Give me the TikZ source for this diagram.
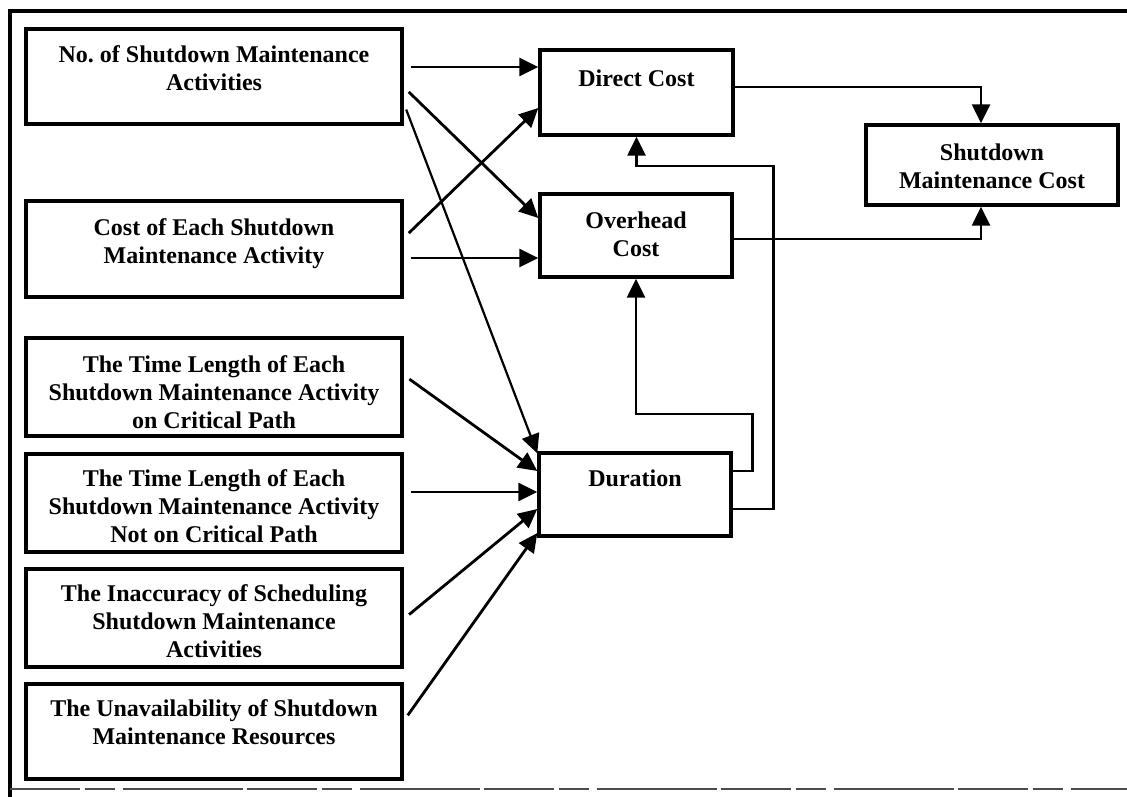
\documentclass[tikz,border=0pt]{standalone}
\usepackage{fontspec}
\setmainfont{Liberation Serif}
\usetikzlibrary{arrows.meta}
\begin{document}
\begin{tikzpicture}[x=1pt,y=-1pt,
  factor/.style={draw,line width=3.4pt,minimum width=376pt,inner sep=0pt},
  costbox/.style={draw,line width=3.4pt,inner sep=0pt},
  lbl/.style={anchor=north,align=center,inner sep=0pt,font=\bfseries\fontsize{24}{28}\selectfont},
  tip/.style={-{Triangle[length=19pt,width=18pt]}},
  arr/.style={tip,line width=2.8pt,shorten <=7pt},
  thinarr/.style={tip,line width=2.2pt,shorten <=7pt},
  elb/.style={tip,line width=2.5pt}]
\useasboundingbox (0,0) rectangle (1127,797);

% outer frame
\draw[line width=4pt] (9.5,797) -- (9.5,11.5) -- (1127,11.5);
\draw[line width=2.2pt,black!70,dash pattern=on 70pt off 5pt on 30pt off 8pt on 120pt off 4pt]
  (9.5,789) -- (1127,789);

% input factors
\node[factor,minimum height=95pt] (b1) at (214,76.5) {};
\node[factor,minimum height=96pt] (b2) at (214,249) {};
\node[factor,minimum height=98pt] (b3) at (214,387) {};
\node[factor,minimum height=98pt] (b4) at (214,503) {};
\node[factor,minimum height=98pt] (b5) at (214,618) {};
\node[factor,minimum height=95pt] (b6) at (214,731.5) {};

\node[lbl] (t1) at ([yshift=-18pt]b1.north) {No.\ of Shutdown Maintenance\\Activities};
\node[lbl] (t2) at ([yshift=-19pt]b2.north) {Cost of Each Shutdown\\Maintenance Activity};
\node[lbl] (t3) at ([yshift=-19pt]b3.north) {The Time Length of Each\\Shutdown Maintenance Activity\\on Critical Path};
\node[lbl] (t4) at ([yshift=-17pt]b4.north) {The Time Length of Each\\Shutdown Maintenance Activity\\Not on Critical Path};
\node[lbl] (t5) at ([yshift=-17pt]b5.north) {The Inaccuracy of Scheduling\\Shutdown Maintenance\\Activities};
\node[lbl] (t6) at ([yshift=-17pt]b6.north) {The Unavailability of Shutdown\\Maintenance Resources};

% intermediate and final quantities
\node[costbox,minimum width=193pt,minimum height=85pt] (direct) at (636.5,92.5) {};
\node[costbox,minimum width=192pt,minimum height=83pt] (over) at (636,235.5) {};
\node[costbox,minimum width=192pt,minimum height=83pt] (dur) at (635,494.5) {};
\node[costbox,minimum width=252pt,minimum height=80pt] (smc) at (992,165) {};

\node[lbl] (tdirect) at ([yshift=-21pt]direct.north) {Direct Cost};
\node[lbl] (tover) at ([yshift=-19pt]over.north) {Overhead\\Cost};
\node[lbl] (tdur) at ([yshift=-18pt]dur.north) {Duration};
\node[lbl] (tsmc) at ([yshift=-20pt]smc.north) {Shutdown\\Maintenance Cost};

% influences of the factors
\draw[arr] ([yshift=9.5pt]b1.east) -- ([yshift=25.5pt]direct.west);
\draw[arr] ([yshift=-10.5pt]b1.east) -- ([yshift=17.5pt]over.west);
\draw[thinarr] ([yshift=-26.5pt]b1.east) -- ([yshift=-2pt]dur.north west);
\draw[arr] ([yshift=11pt]b2.east) -- ([yshift=-15.5pt]direct.west);
\draw[arr] ([yshift=-9pt]b2.east) -- ([yshift=-22.5pt]over.west);
\draw[arr] ([yshift=12pt]b3.east) -- ([yshift=23.5pt]dur.west);
\draw[arr] ([yshift=11pt]b4.east) -- ([yshift=2.5pt]dur.west);
\draw[arr] ([yshift=-1pt]b5.east) -- ([yshift=-14.5pt]dur.west);
\draw[arr] ([yshift=10.5pt]b6.east) -- ([yshift=-38.5pt]dur.west);

% duration feeds both cost components
\draw[elb] ([yshift=23.5pt]dur.east) -- ++(20,0) -- ++(0,-57) -| (over.south);
\draw[elb] ([yshift=-14.5pt]dur.east) -- ++(41,0) -- ++(0,-343) -| (direct.south);

% cost components add up to the total
\draw[elb] ([yshift=5.5pt]direct.east) -| ([xshift=-11pt]smc.north);
\draw[elb] ([yshift=-3.5pt]over.east) -| ([xshift=-11pt]smc.south);
\end{tikzpicture}
\end{document}
